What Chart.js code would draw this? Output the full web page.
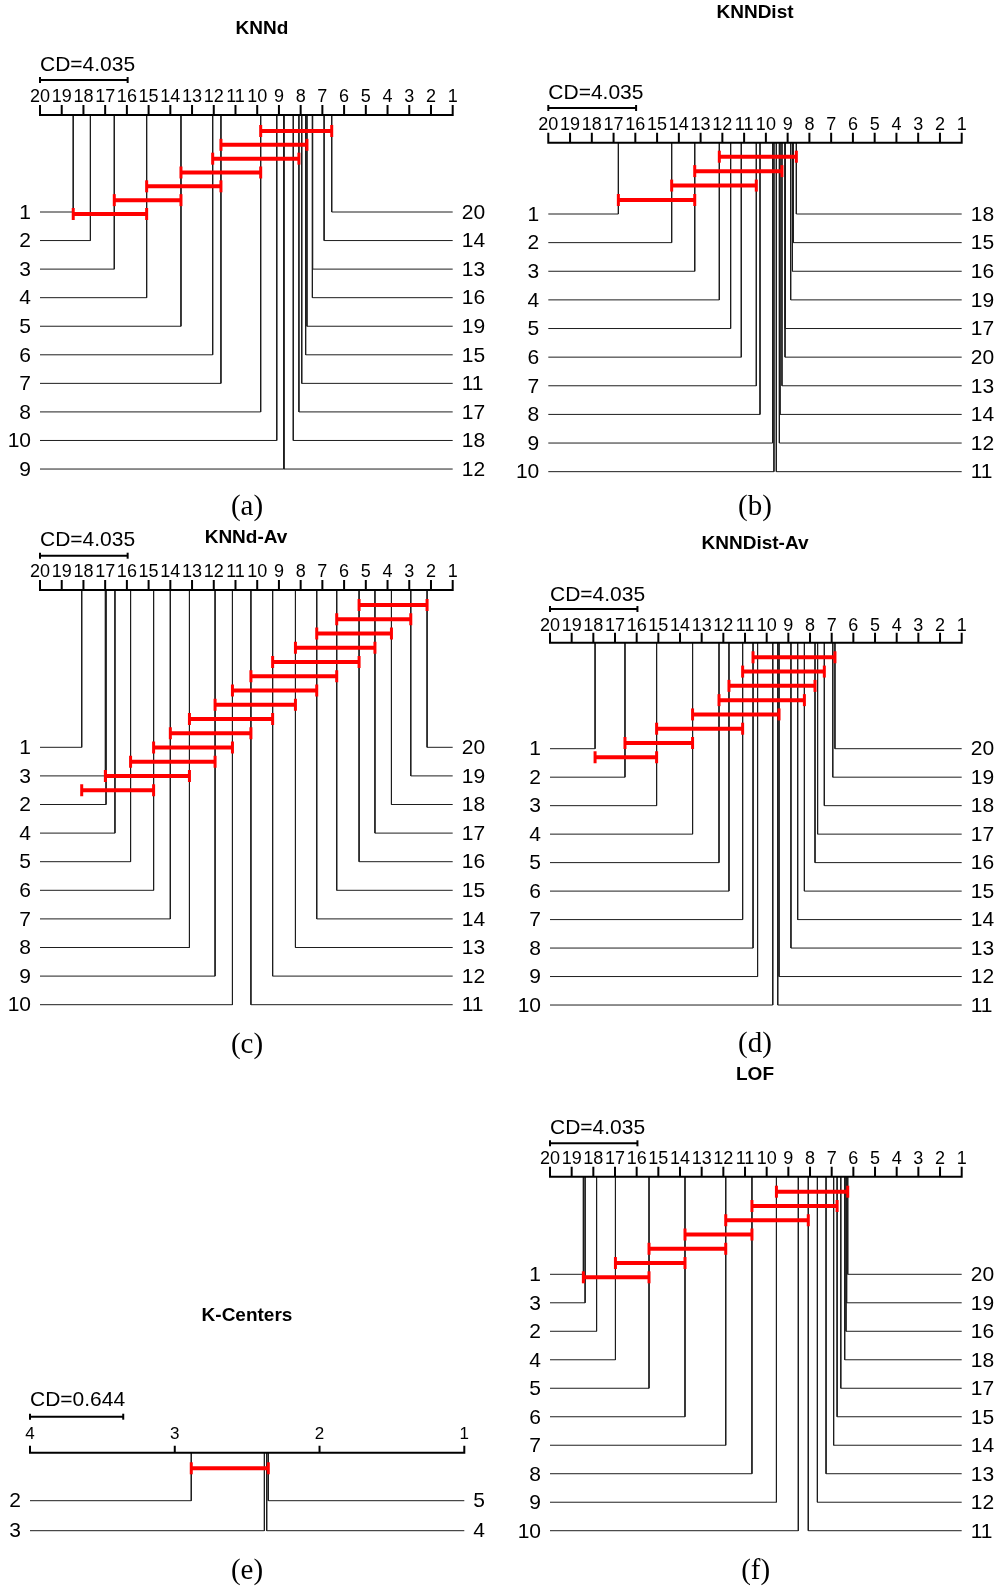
<!DOCTYPE html>
<html>
<head>
<meta charset="utf-8">
<title>Critical difference diagrams</title>
<script src="https://cdn.jsdelivr.net/npm/chart.js@4.4.1/dist/chart.umd.min.js"></script>
<style>
  html, body { margin: 0; padding: 0; background: #fff; }
  #fig { position: relative; width: 998px; height: 1591px; background: #fff; overflow: hidden; }
  #fig canvas { position: absolute; }
</style>
</head>
<body>
<div id="fig">
  <canvas id="cdA" width="499" height="525" style="left:0px;top:0px"></canvas>
  <canvas id="cdB" width="499" height="525" style="left:499px;top:0px"></canvas>
  <canvas id="cdC" width="499" height="537" style="left:0px;top:525px"></canvas>
  <canvas id="cdD" width="499" height="537" style="left:499px;top:525px"></canvas>
  <canvas id="cdE" width="499" height="529" style="left:0px;top:1062px"></canvas>
  <canvas id="cdF" width="499" height="529" style="left:499px;top:1062px"></canvas>
</div>
<script>
// ---- data: average ranks per method (method label = k) ----
const kLabels = ['1','2','3','4','5','6','7','8','9','10','11','12','13','14','15','16','17','18','19','20'];

const knndRanks       = [18.47, 17.68, 16.58, 15.09, 13.51, 12.05, 11.67, 9.84, 8.78, 9.10,
                         7.95, 8.77, 7.45, 6.92, 7.77, 7.46, 8.08, 8.34, 7.71, 6.57];
const knndistRanks    = [16.78, 14.33, 13.27, 12.14, 11.62, 11.13, 10.44, 10.27, 9.69, 9.63,
                         9.52, 9.38, 9.26, 9.35, 8.74, 8.78, 9.11, 8.60, 8.86, 9.12];
const knndAvRanks     = [18.08, 16.96, 16.99, 16.55, 15.83, 14.77, 14.00, 13.12, 11.94, 11.14,
                         10.29, 9.29, 8.24, 7.26, 6.34, 5.31, 4.58, 3.82, 2.93, 2.18];
const knndistAvRanks  = [17.92, 16.54, 15.08, 13.42, 12.20, 11.74, 11.11, 10.63, 10.42, 9.72,
                         9.49, 9.43, 8.88, 8.57, 8.26, 7.77, 7.65, 7.34, 6.95, 6.85];
const lofRanks        = [18.46, 17.85, 18.38, 16.98, 15.43, 13.77, 11.89, 10.68, 9.55, 8.54,
                         8.08, 7.66, 7.26, 6.91, 6.75, 6.34, 6.58, 6.40, 6.31, 6.26];

const kcLabels = ['2','3','4','5'];
const kcRanks  = [2.886, 2.381, 2.365, 2.354];

// critical differences
const cd20 = 4.035;
const cdKc = 0.644;

// groups of methods that are not significantly different: [worst member, best member]
const knndCliques      = [['8','20'],['7','19'],['6','17'],['5','8'],['4','7'],['3','5'],['1','4']];
const knndistCliques   = [['4','18'],['3','13'],['2','7'],['1','3']];
const knndAvCliques    = [['16','20'],['15','19'],['14','18'],['13','17'],['12','16'],['11','15'],['10','14'],
                          ['9','13'],['8','12'],['7','11'],['6','10'],['5','9'],['3','8'],['1','6']];
const knndistAvCliques = [['8','20'],['7','18'],['6','16'],['5','15'],['4','12'],['3','7'],['2','4'],['1','3']];
const kcCliques        = [['2','5']];
const lofCliques       = [['9','20'],['8','15'],['7','11'],['6','8'],['5','7'],['4','6'],['1','5']];

// ---- panel layout (canvas-local pixels) ----
const layoutA = { w: 499, h: 525, axisL: 40,   axisR: 452.7, titleX: 262, titleY: 29,  cdTextY: 65,   cdBarY: 80,   tickTextY: 97,  axisY: 115,   tickLen: 9, tickFont: 18, cliqueY0: 131,   cliqueStep: 13.83, rowY0: 212,   rowStep: 28.56, capX: 247, capY: 507 };
const layoutB = { w: 499, h: 525, axisL: 49.3, axisR: 462.7, titleX: 256, titleY: 13,  cdTextY: 93,   cdBarY: 108,  tickTextY: 125, axisY: 142.7, tickLen: 9, tickFont: 18, cliqueY0: 156.7, cliqueStep: 14.43, rowY0: 214,   rowStep: 28.63, capX: 256, capY: 507 };
const layoutC = { w: 499, h: 537, axisL: 40,   axisR: 452.7, titleX: 246, titleY: 12.3,cdTextY: 15.7, cdBarY: 30.7, tickTextY: 47,  axisY: 65,    tickLen: 9, tickFont: 18, cliqueY0: 80,    cliqueStep: 14.25, rowY0: 222.3, rowStep: 28.6,  capX: 247, capY: 520 };
const layoutD = { w: 499, h: 537, axisL: 51,   axisR: 462.7, titleX: 256, titleY: 19,  cdTextY: 70,   cdBarY: 84,   tickTextY: 101, axisY: 117.7, tickLen: 9, tickFont: 18, cliqueY0: 132.3, cliqueStep: 14.28, rowY0: 223.7, rowStep: 28.48, capX: 256, capY: 519 };
const layoutE = { w: 499, h: 529, axisL: 30,   axisR: 464.3, titleX: 247, titleY: 254, cdTextY: 338.7,cdBarY: 354.7,tickTextY: 372, axisY: 390.7, tickLen: 6, tickFont: 17, cliqueY0: 406.3, cliqueStep: 14.3,  rowY0: 438.7, rowStep: 30,    capX: 247, capY: 509.7 };
const layoutF = { w: 499, h: 529, axisL: 51,   axisR: 462.7, titleX: 256, titleY: 13,  cdTextY: 66.3, cdBarY: 81.3, tickTextY: 97,  axisY: 114.7, tickLen: 9, tickFont: 18, cliqueY0: 129.7, cliqueStep: 14.27, rowY0: 212.3, rowStep: 28.49, capX: 256.7, capY: 509.7 };

const SANS = '"Liberation Sans", Arial, Helvetica, sans-serif';
const SERIF = '"Liberation Serif", "Times New Roman", serif';
const LINE = '#1e1e1e';

function cdDiagram(canvasId, names, ranks, cliques, cd, L, title, caption) {
  const n = names.length;
  const worst = n;             // the rank axis runs from n (left) to 1 (right)
  const rankOf = {};
  names.forEach((nm, i) => { rankOf[nm] = ranks[i]; });

  const sorted = names.map((nm, i) => ({ name: nm, rank: ranks[i] }))
                      .sort((a, b) => b.rank - a.rank);
  const half = Math.ceil(n / 2);
  const leftSide = sorted.slice(0, half);
  const rightSide = sorted.slice(half).reverse();

  const base = { showLine: true, pointRadius: 0, fill: false, clip: false, borderJoinStyle: 'miter' };
  const datasets = [];

  // connectors from the rank axis to each method label (drawn underneath)
  leftSide.forEach((m, i) => {
    const ry = L.rowY0 + i * L.rowStep;
    datasets.push(Object.assign({}, base, {
      order: 2,
      data: [{ x: m.rank, y: L.axisY }, { x: m.rank, y: ry }, { x: worst, y: ry }],
      borderColor: LINE, borderWidth: 1
    }));
  });
  rightSide.forEach((m, i) => {
    const ry = L.rowY0 + i * L.rowStep;
    datasets.push(Object.assign({}, base, {
      order: 2,
      data: [{ x: m.rank, y: L.axisY }, { x: m.rank, y: ry }, { x: 1, y: ry }],
      borderColor: LINE, borderWidth: 1
    }));
  });

  // cliques of methods without significant difference (drawn on top)
  cliques.forEach((c, i) => {
    const cy = L.cliqueY0 + i * L.cliqueStep;
    datasets.push(Object.assign({}, base, {
      order: 1,
      data: [{ x: rankOf[c[0]], y: cy }, { x: rankOf[c[1]], y: cy }],
      borderColor: '#ff0000', borderWidth: 4,
      pointStyle: 'line', pointRotation: 90, pointRadius: 6,
      pointBorderColor: '#ff0000', pointBorderWidth: 3
    }));
  });

  // critical difference bar
  datasets.push(Object.assign({}, base, {
    order: 1,
    data: [{ x: worst, y: L.cdBarY }, { x: worst - cd, y: L.cdBarY }],
    borderColor: '#000', borderWidth: 2,
    pointStyle: 'line', pointRotation: 90, pointRadius: 3,
    pointBorderColor: '#000', pointBorderWidth: 2
  }));

  const decor = {
    id: 'cdDecor',
    afterDatasetsDraw(chart) {
      const ctx = chart.ctx;
      const xs = chart.scales.x, ys = chart.scales.y;
      ctx.save();
      // rank axis with ticks pointing up
      const ay = ys.getPixelForValue(L.axisY);
      ctx.strokeStyle = '#000';
      ctx.lineWidth = 2;
      ctx.lineCap = 'square';
      ctx.beginPath();
      ctx.moveTo(xs.getPixelForValue(worst), ay);
      ctx.lineTo(xs.getPixelForValue(1), ay);
      for (let r = 1; r <= worst; r++) {
        const px = xs.getPixelForValue(r);
        ctx.moveTo(px, ay);
        ctx.lineTo(px, ay - L.tickLen);
      }
      ctx.stroke();

      ctx.fillStyle = '#000';
      ctx.textBaseline = 'middle';
      ctx.textAlign = 'center';
      ctx.font = L.tickFont + 'px ' + SANS;
      const ty = ys.getPixelForValue(L.tickTextY);
      for (let r = 1; r <= worst; r++) {
        ctx.fillText(String(r), xs.getPixelForValue(r), ty);
      }

      // CD label
      ctx.textAlign = 'left';
      ctx.font = '21px ' + SANS;
      ctx.fillText('CD=' + cd.toFixed(3), xs.getPixelForValue(worst), ys.getPixelForValue(L.cdTextY));

      // method labels
      ctx.font = '21px ' + SANS;
      ctx.textAlign = 'right';
      leftSide.forEach((m, i) => {
        ctx.fillText(m.name, xs.getPixelForValue(worst) - 9, ys.getPixelForValue(L.rowY0 + i * L.rowStep) + 1);
      });
      ctx.textAlign = 'left';
      rightSide.forEach((m, i) => {
        ctx.fillText(m.name, xs.getPixelForValue(1) + 9, ys.getPixelForValue(L.rowY0 + i * L.rowStep) + 1);
      });

      // title and caption
      ctx.textAlign = 'center';
      ctx.font = 'bold 19px ' + SANS;
      ctx.fillText(title, L.titleX, L.titleY);
      ctx.font = '29px ' + SERIF;
      ctx.fillText(caption, L.capX, L.capY);
      ctx.restore();
    }
  };

  return new Chart(document.getElementById(canvasId), {
    type: 'scatter',
    data: { datasets },
    options: {
      responsive: false,
      animation: false,
      events: [],
      layout: { autoPadding: false, padding: { left: L.axisL, right: L.w - L.axisR, top: 0, bottom: 0 } },
      scales: {
        x: { type: 'linear', min: 1, max: worst, reverse: true, display: false },
        y: { type: 'linear', min: 0, max: L.h, reverse: true, display: false }
      },
      plugins: { legend: { display: false }, tooltip: { enabled: false }, title: { display: false } }
    },
    plugins: [decor]
  });
}

cdDiagram('cdA', kLabels, knndRanks,      knndCliques,      cd20, layoutA, 'KNNd',       '(a)');
cdDiagram('cdB', kLabels, knndistRanks,   knndistCliques,   cd20, layoutB, 'KNNDist',    '(b)');
cdDiagram('cdC', kLabels, knndAvRanks,    knndAvCliques,    cd20, layoutC, 'KNNd-Av',    '(c)');
cdDiagram('cdD', kLabels, knndistAvRanks, knndistAvCliques, cd20, layoutD, 'KNNDist-Av', '(d)');
cdDiagram('cdE', kcLabels, kcRanks,       kcCliques,        cdKc, layoutE, 'K-Centers',  '(e)');
cdDiagram('cdF', kLabels, lofRanks,       lofCliques,       cd20, layoutF, 'LOF',        '(f)');
</script>
</body>
</html>
